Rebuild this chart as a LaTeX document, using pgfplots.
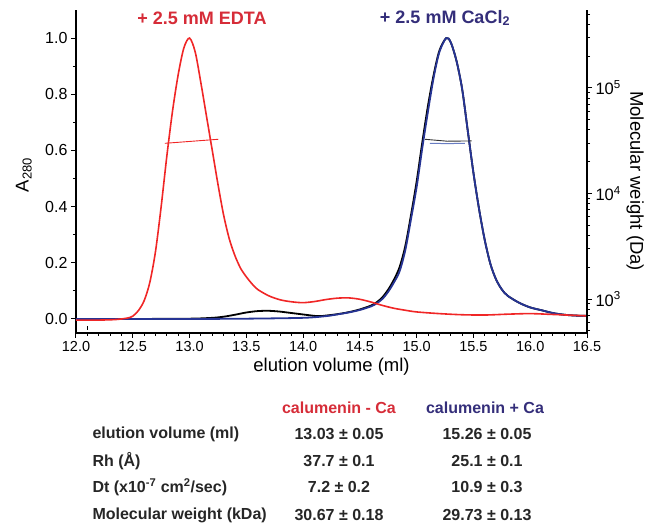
\documentclass[border=0pt]{standalone}
\usepackage{fontspec}
\setmainfont{Liberation Sans}
\usepackage{pgfplots}
\pgfplotsset{compat=1.18}

\definecolor{edta}{RGB}{240,38,38}
\definecolor{edtatext}{RGB}{214,44,56}
\definecolor{navytext}{RGB}{52,46,122}
\definecolor{cablue}{RGB}{38,52,148}
\definecolor{mwblue}{RGB}{105,125,195}

\begin{document}
\begin{tikzpicture}[x=1pt,y=1pt]
\path[use as bounding box] (0,0) rectangle (645,525);

\begin{axis}[
  at={(76pt,192pt)}, anchor=south west,
  scale only axis, width=511pt, height=323pt,
  xmin=12, xmax=16.5, ymin=-0.05, ymax=1.1,
  axis x line*=bottom, axis y line*=left,
  axis line style={line width=1.1pt,-},
  tick align=outside,
  xtick pos=bottom, ytick pos=left,
  xtick={12,12.5,13,13.5,14,14.5,15,15.5,16,16.5},
  ytick={0,0.2,0.4,0.6,0.8,1.0},
  minor x tick num=4, minor y tick num=1,
  major tick length=5pt, minor tick length=3pt,
  every tick/.style={black, line width=1pt},
  /pgf/number format/assume math mode=true,
  xticklabel style={/pgf/number format/fixed,/pgf/number format/fixed zerofill,/pgf/number format/precision=1, font=\fontsize{14.5}{16}\selectfont},
  yticklabel style={/pgf/number format/fixed,/pgf/number format/fixed zerofill,/pgf/number format/precision=1, font=\fontsize{16}{18}\selectfont},
  xlabel={elution volume (ml)},
  xlabel style={font=\fontsize{18.5}{20}\selectfont, at={(axis description cs:0.5,-0.105)}, anchor=center},
  ylabel={A\textsubscript{280}},
  ylabel style={font=\fontsize{18.5}{20}\selectfont, at={(axis description cs:-0.102,0.489)}, anchor=center},
  clip=false,
]
% black trace (+ CaCl2, repeat)
\addplot[black, line width=1.8pt, smooth] coordinates {
(12.0,0.000)(12.5,0.000)(13.0,0.001)(13.2,0.004)(13.3,0.008)(13.4,0.015)(13.5,0.023)
(13.6,0.028)(13.7,0.029)(13.8,0.026)(13.9,0.021)(14.0,0.016)(14.1,0.011)(14.15,0.010)
(14.2,0.012)(14.3,0.017)(14.4,0.024)(14.5,0.034)(14.6,0.048)(14.65,0.060)(14.7,0.078)
(14.75,0.105)(14.8,0.140)(14.85,0.185)(14.9,0.260)(14.95,0.370)(15.0,0.490)(15.05,0.630)
(15.1,0.760)(15.15,0.870)(15.2,0.955)(15.26,1.000)(15.3,0.985)(15.35,0.920)(15.4,0.820)
(15.45,0.670)(15.5,0.520)(15.55,0.390)(15.6,0.280)(15.65,0.195)(15.7,0.140)(15.75,0.105)
(15.8,0.083)(15.9,0.058)(16.0,0.041)(16.1,0.031)(16.2,0.021)(16.3,0.015)(16.4,0.012)(16.5,0.011)
};
% blue trace (+ 2.5 mM CaCl2)
\addplot[cablue, line width=1.8pt, smooth] coordinates {
(12.0,0.000)(12.5,0.000)(13.0,0.000)(13.5,0.001)(14.0,0.004)(14.2,0.010)(14.3,0.016)
(14.4,0.023)(14.5,0.032)(14.6,0.045)(14.65,0.056)(14.7,0.072)(14.75,0.097)(14.8,0.130)
(14.85,0.170)(14.9,0.245)(14.95,0.355)(15.0,0.470)(15.05,0.610)(15.1,0.740)(15.15,0.860)
(15.2,0.950)(15.26,1.000)(15.3,0.985)(15.35,0.920)(15.4,0.820)(15.45,0.670)(15.5,0.520)
(15.55,0.390)(15.6,0.280)(15.65,0.195)(15.7,0.140)(15.75,0.105)(15.8,0.083)(15.9,0.058)
(16.0,0.041)(16.1,0.031)(16.2,0.021)(16.3,0.015)(16.4,0.012)(16.5,0.011)
};
% red trace (+ 2.5 mM EDTA)
\addplot[edta, line width=1.6pt, smooth] coordinates {
(12.0,-0.004)(12.2,-0.004)(12.35,-0.002)(12.45,0.003)(12.5,0.010)(12.55,0.030)(12.6,0.065)
(12.65,0.130)(12.7,0.240)(12.75,0.400)(12.8,0.580)(12.85,0.740)(12.9,0.870)(12.95,0.965)
(13.0,1.000)(13.05,0.950)(13.1,0.840)(13.15,0.720)(13.2,0.600)(13.25,0.480)(13.3,0.370)
(13.35,0.285)(13.4,0.225)(13.45,0.180)(13.5,0.150)(13.55,0.125)(13.6,0.105)(13.7,0.082)
(13.8,0.068)(13.9,0.061)(14.0,0.058)(14.1,0.062)(14.2,0.069)(14.3,0.074)(14.4,0.075)
(14.5,0.070)(14.6,0.060)(14.7,0.048)(14.8,0.038)(14.9,0.031)(15.0,0.025)(15.2,0.019)
(15.4,0.015)(15.6,0.014)(15.8,0.017)(16.0,0.019)(16.2,0.016)(16.5,0.011)
};
% small mark near the baseline
\addplot[black, line width=1pt] coordinates {(12.103,-0.026)(12.103,-0.038)};
\end{axis}

\begin{axis}[
  at={(76pt,192pt)}, anchor=south west,
  scale only axis, width=511pt, height=323pt,
  xmin=12, xmax=16.5, ymode=log, ymin=477, ymax=548000,
  axis x line=none, axis y line*=right,
  axis line style={line width=1.1pt,-},
  tick align=outside, ytick pos=right,
  ytick={1000,10000,100000},
  yticklabels={10\textsuperscript{3},10\textsuperscript{4},10\textsuperscript{5}},
  minor ytick={500,600,700,800,900,2000,3000,4000,5000,6000,7000,8000,9000,20000,30000,40000,50000,60000,70000,80000,90000,200000,300000,400000,500000},
  major tick length=5pt, minor tick length=3pt,
  every tick/.style={black, line width=1pt},
  yticklabel style={font=\fontsize{16.5}{18}\selectfont},
  ylabel={Molecular weight (Da)},
  ylabel style={font=\fontsize{18.5}{20}\selectfont, at={(axis description cs:1.094,0.47)}, anchor=center, rotate=180},
  clip=false,
]
\addplot[edta, line width=0.9pt] coordinates {(12.783,29900)(13.253,32650)};
\addplot[mwblue, line width=1pt] coordinates {(15.116,29900)(15.27,29700)(15.424,29900)};
\addplot[black!80, line width=0.9pt] coordinates {(15.072,32650)(15.27,31300)(15.483,31500)};
\end{axis}

\node[font=\fontsize{18}{20}\selectfont\bfseries, text=edtatext] at (202,507) {+ 2.5 mM EDTA};
\node[font=\fontsize{18}{20}\selectfont\bfseries, text=navytext] at (445,507) {+ 2.5 mM CaCl\textsubscript{2}};

\begin{scope}[every node/.style={font=\fontsize{16}{18}\selectfont\bfseries, text=black!85}]
\node[text=edtatext] at (339,117) {calumenin - Ca};
\node[text=navytext] at (485,117) {calumenin + Ca};
\node[anchor=west] at (89,91) {elution volume (ml)};
\node[anchor=west] at (89,64) {Rh (Å)};
\node[anchor=west] at (89,38) {Dt (x10\textsuperscript{-7} cm\textsuperscript{2}/sec)};
\node[anchor=west] at (89,10) {Molecular weight (kDa)};
\node at (339,91) {13.03 ± 0.05};
\node at (487,91) {15.26 ± 0.05};
\node at (339,64) {37.7 ± 0.1};
\node at (487,64) {25.1 ± 0.1};
\node at (339,38) {7.2 ± 0.2};
\node at (487,38) {10.9 ± 0.3};
\node at (339,10) {30.67 ± 0.18};
\node at (487,10) {29.73 ± 0.13};
\end{scope}
\end{tikzpicture}
\end{document}
